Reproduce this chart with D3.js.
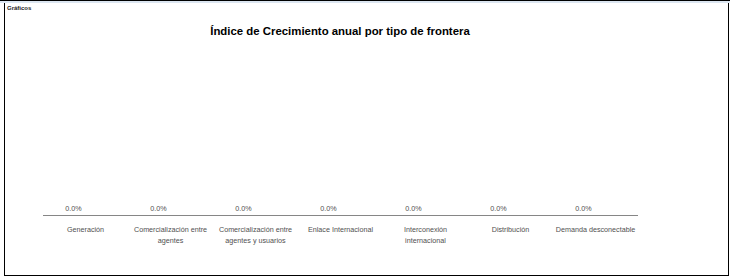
<!DOCTYPE html>
<html lang="es">
<head>
<meta charset="UTF-8" />
<script src="https://d3js.org/d3.v7.min.js"></script>
<style>
  body { margin: 0; background: #fff; }
  svg { display: block; font-family: "Liberation Sans", Arial, sans-serif; }
</style>
</head>
<body>
<script>
var w = 730;
var h = 277;

// datos
var categorias = [
  "Generación",
  "Comercialización entre|agentes",
  "Comercialización entre|agentes y usuarios",
  "Enlace Internacional",
  "Interconexión|internacional",
  "Distribución",
  "Demanda desconectable"
];
var valores = [0, 0, 0, 0, 0, 0, 0];
var titulo = "Índice de Crecimiento anual por tipo de frontera";

var svg = d3.select("body").append("svg")
  .attr("width", w)
  .attr("height", h);

// marco de la hoja
svg.append("rect").attr("x", 0).attr("y", 0).attr("width", w).attr("height", 3).attr("fill", "#dce6f1");
svg.append("line").attr("x1", 0).attr("x2", w).attr("y1", 0.5).attr("y2", 0.5).attr("stroke", "#000");
svg.append("line").attr("x1", 4.5).attr("x2", 4.5).attr("y1", 3).attr("y2", 276).attr("stroke", "#000");
svg.append("line").attr("x1", 728.5).attr("x2", 728.5).attr("y1", 3).attr("y2", 276).attr("stroke", "#000");
svg.append("line").attr("x1", 4).attr("x2", 729).attr("y1", 275.5).attr("y2", 275.5).attr("stroke", "#000");

svg.append("text")
  .attr("x", 7).attr("y", 10)
  .attr("font-size", "6px").attr("font-weight", "bold")
  .attr("fill", "#222")
  .text("Gráficos");

svg.append("text")
  .attr("x", 340).attr("y", 35)
  .attr("text-anchor", "middle")
  .attr("font-size", "11.4px").attr("font-weight", "bold")
  .attr("fill", "#000")
  .text(titulo);

var x = d3.scaleBand()
  .domain(d3.range(categorias.length))
  .range([43, 638])
  .paddingInner(0.3)
  .paddingOuter(0.15);

var y = d3.scaleLinear()
  .domain([0, 1])
  .range([215, 50]);

svg.selectAll("rect.bar")
  .data(valores)
  .enter()
  .append("rect")
  .attr("class", "bar")
  .attr("x", function (d, i) { return x(i); })
  .attr("y", function (d) { return y(d); })
  .attr("width", x.bandwidth())
  .attr("height", function (d) { return y(0) - y(d); })
  .attr("fill", "#4f81bd");

// etiquetas de valor (Excel las deja algo corridas a la izquierda)
svg.selectAll("text.valor")
  .data(valores)
  .enter()
  .append("text")
  .attr("class", "valor")
  .attr("x", function (d, i) { return x(i) + x.bandwidth() / 2 - 12; })
  .attr("y", function (d) { return y(d) - 4; })
  .attr("text-anchor", "middle")
  .attr("font-size", "7.2px")
  .attr("fill", "#505050")
  .text(function (d) { return d3.format(".1%")(d); });

// eje
svg.append("line")
  .attr("x1", 43).attr("x2", 638)
  .attr("y1", y(0) + 0.5).attr("y2", y(0) + 0.5)
  .attr("stroke", "#868686");

var etiquetas = svg.selectAll("text.cat")
  .data(categorias)
  .enter()
  .append("text")
  .attr("class", "cat")
  .attr("text-anchor", "middle")
  .attr("font-size", "7.2px")
  .attr("fill", "#505050");

etiquetas.each(function (d, i) {
  var lineas = d.split("|");
  var t = d3.select(this);
  lineas.forEach(function (l, j) {
    t.append("tspan")
      .attr("x", x(i) + x.bandwidth() / 2)
      .attr("y", 232 + j * 11)
      .text(l);
  });
});
</script>
</body>
</html>
